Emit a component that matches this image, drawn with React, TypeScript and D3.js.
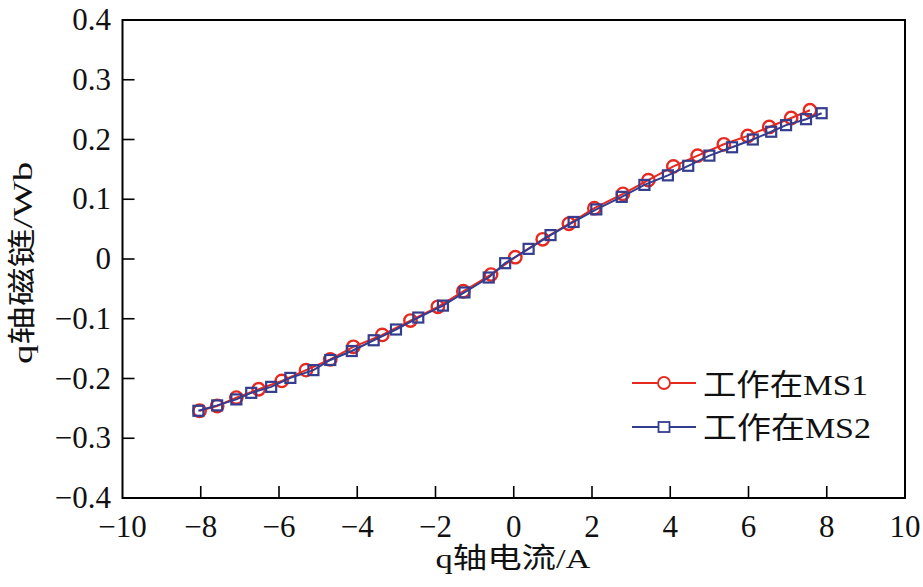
import React, { useEffect } from "react";
import * as d3 from "d3";

const xTicks = [-10, -8, -6, -4, -2, 0, 2, 4, 6, 8, 10];
const yTicks = [-0.4, -0.3, -0.2, -0.1, 0, 0.1, 0.2, 0.3, 0.4];

const ms1X = [-8.03, -7.58, -7.09, -6.52, -5.93, -5.31, -4.69, -4.1, -3.36, -2.64, -1.94, -1.29, -0.58, 0.04, 0.74, 1.41, 2.06, 2.79, 3.44, 4.08, 4.7, 5.37, 5.98, 6.53, 7.09, 7.57];
const ms1Y = [-0.254, -0.246, -0.232, -0.218, -0.204, -0.186, -0.168, -0.147, -0.127, -0.103, -0.08, -0.054, -0.026, 0.003, 0.033, 0.059, 0.085, 0.109, 0.132, 0.155, 0.173, 0.192, 0.206, 0.221, 0.236, 0.249];

const ms2X = [-8.06, -7.58, -7.09, -6.71, -6.2, -5.71, -5.12, -4.69, -4.14, -3.58, -3.01, -2.44, -1.81, -1.26, -0.64, -0.22, 0.38, 0.94, 1.53, 2.11, 2.76, 3.34, 3.94, 4.46, 5.0, 5.58, 6.11, 6.58, 6.96, 7.47, 7.87];
const ms2Y = [-0.254, -0.245, -0.235, -0.224, -0.214, -0.199, -0.186, -0.169, -0.154, -0.136, -0.118, -0.098, -0.078, -0.056, -0.031, -0.007, 0.017, 0.04, 0.062, 0.083, 0.104, 0.124, 0.14, 0.156, 0.173, 0.187, 0.2, 0.213, 0.224, 0.234, 0.244];

const seriesNames = ["工作在MS1", "工作在MS2"];
const xTitle = "q轴电流/A";
const yTitle = "q轴磁链/Wb";

const RED = "#e8291f";
const BLUE = "#343d8e";
const FONT = "Liberation Serif, Tinos, DejaVu Serif, Noto Sans CJK SC";

const W = 923;
const H = 587;
const L = 122.5, R = 905, T = 20, B = 498;

export default function App() {
  useEffect(() => {
    document.body.style.margin = "0";
  }, []);

  const x = d3.scaleLinear().domain([-10, 10]).range([L, R]);
  const y = d3.scaleLinear().domain([-0.4, 0.4]).range([B, T]);

  const s1 = ms1X.map((v, i) => [v, ms1Y[i]] as [number, number]);
  const s2 = ms2X.map((v, i) => [v, ms2Y[i]] as [number, number]);
  const line = d3.line<[number, number]>().x((d) => x(d[0])).y((d) => y(d[1]));

  const fmtY = (v: number) => (v === 0 ? "0" : (v < 0 ? "\u2212" : "") + Math.abs(v).toFixed(1));
  const fmtX = (v: number) => (v < 0 ? "\u2212" : "") + Math.abs(v);

  const legX = 632, legX2 = 696, legTx = 703;
  const legY = [383, 427];
  const tStyle = { fontFamily: FONT };

  return (
    <div style={{ position: "absolute", left: 0, top: 0 }}>
      <svg width={W} height={H} style={{ display: "block", background: "#fff" }}>
        <rect x={0} y={0} width={W} height={H} fill="#fff" />
        {xTicks.slice(1, -1).map((t) => (
          <line key={"xt" + t} x1={x(t)} x2={x(t)} y1={B} y2={B - 12} stroke="#000" strokeWidth={1.6} />
        ))}
        {yTicks.slice(1, -1).map((t) => (
          <line key={"yt" + t} x1={L} x2={L + 12} y1={y(t)} y2={y(t)} stroke="#000" strokeWidth={1.6} />
        ))}
        <rect x={L} y={T} width={R - L} height={B - T} fill="none" stroke="#000" strokeWidth={2} />
        {xTicks.map((t) => (
          <text key={"xl" + t} x={x(t)} y={537} textAnchor="middle" style={tStyle} fontSize={31} fill="#111">
            {fmtX(t)}
          </text>
        ))}
        {yTicks.map((t) => (
          <text key={"yl" + t} x={111} y={y(t) + 10} textAnchor="end" style={tStyle} fontSize={31} fill="#111">
            {fmtY(t)}
          </text>
        ))}
        <text x={513} y={568} textAnchor="middle" style={tStyle} fontSize={28} fill="#111" textLength={155} lengthAdjust="spacingAndGlyphs">
          {xTitle}
        </text>
        <text transform={`translate(32, 263) rotate(-90)`} textAnchor="middle" style={tStyle} fontSize={28} fill="#111" textLength={202} lengthAdjust="spacingAndGlyphs">
          {yTitle}
        </text>
        <path d={line(s1) || ""} fill="none" stroke={RED} strokeWidth={2} />
        {s1.map((d, i) => (
          <circle key={"c" + i} cx={x(d[0])} cy={y(d[1])} r={6.2} fill="none" stroke={RED} strokeWidth={2.4} />
        ))}
        <path d={line(s2) || ""} fill="none" stroke={BLUE} strokeWidth={2} />
        {s2.map((d, i) => (
          <rect key={"s" + i} x={x(d[0]) - 5} y={y(d[1]) - 5} width={10} height={10} fill="none" stroke={BLUE} strokeWidth={2.2} />
        ))}
        <line x1={legX} x2={legX2} y1={legY[0]} y2={legY[0]} stroke={RED} strokeWidth={1.8} />
        <circle cx={(legX + legX2) / 2} cy={legY[0]} r={6} fill="#fff" stroke={RED} strokeWidth={1.8} />
        <text x={legTx} y={legY[0] + 12} style={tStyle} fontSize={30} fill="#111" textLength={165} lengthAdjust="spacingAndGlyphs">{seriesNames[0]}</text>
        <line x1={legX} x2={legX2} y1={legY[1]} y2={legY[1]} stroke={BLUE} strokeWidth={1.8} />
        <rect x={(legX + legX2) / 2 - 5.5} y={legY[1] - 5} width={11} height={10} fill="#fff" stroke={BLUE} strokeWidth={1.8} />
        <text x={legTx} y={legY[1] + 11} style={tStyle} fontSize={30} fill="#111" textLength={168} lengthAdjust="spacingAndGlyphs">{seriesNames[1]}</text>
      </svg>
    </div>
  );
}
